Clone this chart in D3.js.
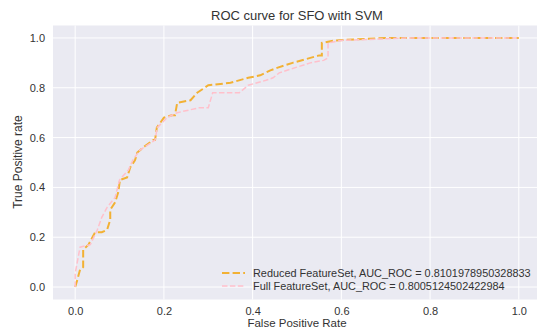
<!DOCTYPE html>
<html>
<head>
<meta charset="utf-8">
<script src="https://cdn.jsdelivr.net/npm/d3@7"></script>
<style>
  body { margin: 0; background: #fff; }
  text { font-family: "Liberation Sans", Arial, sans-serif; fill: #333; }
</style>
</head>
<body>
<div id="chart"></div>
<script>
// ROC points
const reducedFpr = [0, 0.005, 0.011, 0.018, 0.018, 0.03, 0.045, 0.06, 0.072, 0.079, 0.079, 0.09, 0.097, 0.101, 0.117, 0.124, 0.135, 0.14, 0.153, 0.176, 0.18, 0.184, 0.2, 0.218, 0.225, 0.23, 0.26, 0.275, 0.30, 0.35, 0.39, 0.417, 0.44, 0.455, 0.49, 0.53, 0.55, 0.556, 0.556, 0.585, 0.7, 1];
const reducedTpr = [0, 0.03, 0.07, 0.08, 0.15, 0.17, 0.22, 0.22, 0.23, 0.27, 0.31, 0.34, 0.38, 0.43, 0.44, 0.48, 0.51, 0.54, 0.56, 0.59, 0.59, 0.64, 0.68, 0.69, 0.69, 0.74, 0.75, 0.78, 0.81, 0.82, 0.84, 0.85, 0.87, 0.88, 0.90, 0.92, 0.93, 0.93, 0.98, 0.99, 1.0, 1];

const fullFpr = [0, 0, 0.011, 0.034, 0.05, 0.06, 0.072, 0.09, 0.1, 0.12, 0.13, 0.146, 0.18, 0.185, 0.207, 0.23, 0.28, 0.30, 0.31, 0.37, 0.39, 0.43, 0.446, 0.46, 0.53, 0.56, 0.57, 0.57, 0.6, 0.75, 1];
const fullTpr = [0, 0.055, 0.16, 0.17, 0.23, 0.28, 0.32, 0.36, 0.43, 0.47, 0.51, 0.55, 0.59, 0.64, 0.68, 0.70, 0.72, 0.72, 0.78, 0.78, 0.81, 0.83, 0.84, 0.86, 0.90, 0.91, 0.92, 0.98, 0.99, 1.0, 1];

const xTicks = [0, 0.2, 0.4, 0.6, 0.8, 1.0];
const yTicks = [0, 0.2, 0.4, 0.6, 0.8, 1.0];

const seriesNames = ["Reduced FeatureSet, AUC_ROC = 0.8101978950328833",
                     "Full FeatureSet, AUC_ROC = 0.8005124502422984"];

const W = 537, H = 331;
const plot = {left: 53, right: 541, top: 25.5, bottom: 299.5};

const svg = d3.select("#chart").append("svg")
    .attr("width", W)
    .attr("height", H);

const x = d3.scaleLinear().domain([-0.05, 1.05]).range([plot.left, plot.right]);
const y = d3.scaleLinear().domain([-0.05, 1.05]).range([plot.bottom, plot.top]);

// background
svg.append("rect")
    .attr("x", plot.left)
    .attr("y", plot.top)
    .attr("width", plot.right - plot.left)
    .attr("height", plot.bottom - plot.top)
    .attr("fill", "#eaeaf2");

// grid
svg.append("g").selectAll("line")
    .data(xTicks).join("line")
    .attr("x1", d => x(d)).attr("x2", d => x(d))
    .attr("y1", plot.top).attr("y2", plot.bottom)
    .attr("stroke", "#fff").attr("stroke-width", 1);

svg.append("g").selectAll("line")
    .data(yTicks).join("line")
    .attr("x1", plot.left).attr("x2", plot.right)
    .attr("y1", d => y(d)).attr("y2", d => y(d))
    .attr("stroke", "#fff").attr("stroke-width", 1);

// axes (labels only, seaborn style)
const xAxis = svg.append("g")
    .attr("transform", `translate(0,${plot.bottom})`)
    .call(d3.axisBottom(x).tickValues(xTicks).tickFormat(d3.format(".1f")).tickSize(0).tickPadding(8));
const yAxis = svg.append("g")
    .attr("transform", `translate(${plot.left},0)`)
    .call(d3.axisLeft(y).tickValues(yTicks).tickFormat(d3.format(".1f")).tickSize(0).tickPadding(8));
[xAxis, yAxis].forEach(a => {
    a.select(".domain").remove();
    a.selectAll("text").attr("font-size", 11).attr("fill", "#444")
        .style("font-family", "'Liberation Sans', Arial, sans-serif");
});

// curves
const line = d3.line().x(d => x(d[0])).y(d => y(d[1]));

const reduced = reducedFpr.map((f, i) => [f, reducedTpr[i]]);
const full = fullFpr.map((f, i) => [f, fullTpr[i]]);

const styles = [
    {color: "#f2b134", width: 2, dash: "7.4,3.2"},
    {color: "#ffc0cb", width: 1.5, dash: "5.5,2.4"}
];

[reduced, full].forEach((pts, i) => {
    svg.append("path")
        .datum(pts)
        .attr("fill", "none")
        .attr("stroke", styles[i].color)
        .attr("stroke-width", styles[i].width)
        .attr("stroke-dasharray", styles[i].dash)
        .attr("d", line);
});

// title and axis labels
svg.append("text")
    .attr("x", (plot.left + plot.right) / 2)
    .attr("y", 20)
    .attr("text-anchor", "middle")
    .attr("font-size", 13)
    .text("ROC curve for SFO with SVM");

svg.append("text")
    .attr("x", (plot.left + plot.right) / 2)
    .attr("y", 327)
    .attr("text-anchor", "middle")
    .attr("font-size", 11.5)
    .text("False Positive Rate");

svg.append("text")
    .attr("transform", "translate(22,162) rotate(-90)")
    .attr("text-anchor", "middle")
    .attr("font-size", 12)
    .text("True Positive rate");

// legend
const legend = svg.append("g");
seriesNames.forEach((name, i) => {
    const ly = 273 + i * 13;
    legend.append("line")
        .attr("x1", 222).attr("x2", 245)
        .attr("y1", ly).attr("y2", ly)
        .attr("stroke", styles[i].color)
        .attr("stroke-width", styles[i].width)
        .attr("stroke-dasharray", styles[i].dash);
    legend.append("text")
        .attr("x", 253)
        .attr("y", ly + 4)
        .attr("font-size", 10.9)
        .text(name);
});
</script>
</body>
</html>
